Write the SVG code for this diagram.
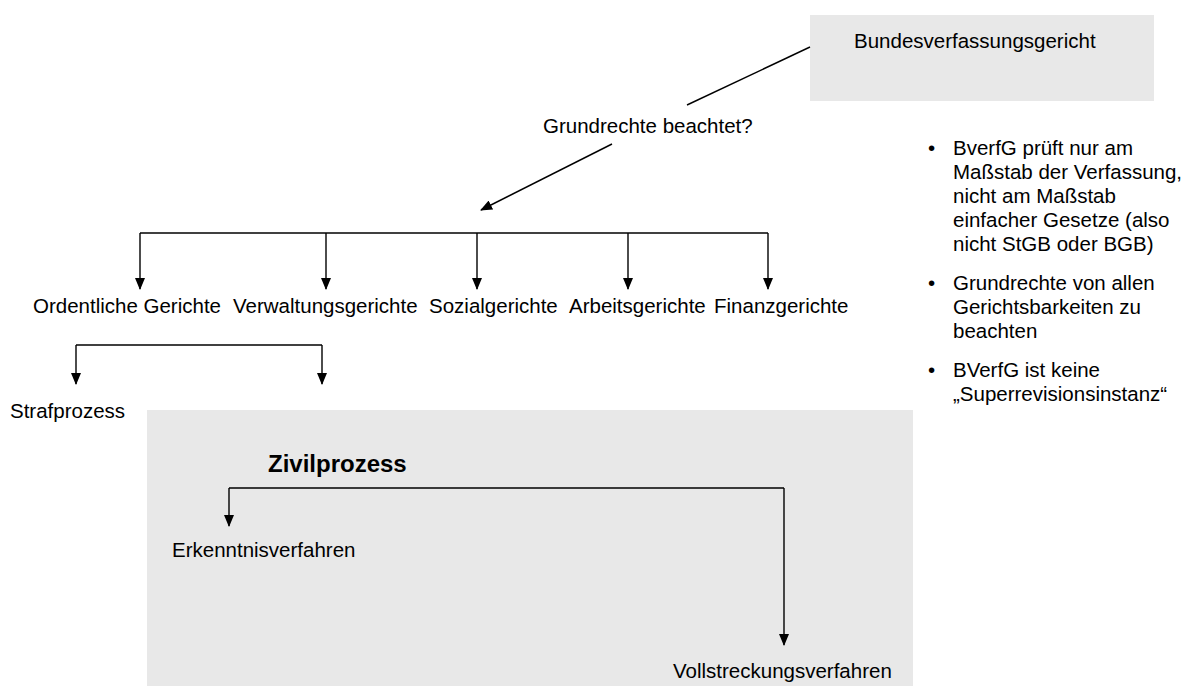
<svg xmlns="http://www.w3.org/2000/svg" width="1195" height="686" viewBox="0 0 1195 686">
<style>
text{font-family:"Liberation Sans",Arial,sans-serif;font-size:20.5px;fill:#000}
.b{font-weight:bold;font-size:24px}
.c{fill:none;stroke:#000;stroke-width:1.4}
.box{fill:#e8e8e8}
</style>
<defs>
<marker id="ah" markerWidth="12" markerHeight="10" refX="11" refY="5" orient="auto" markerUnits="userSpaceOnUse">
<path d="M0,0 L12,5 L0,10 z" fill="#000"/>
</marker>
</defs>
<rect id="zivil-bg" class="box" x="147" y="410" width="766" height="276"/>
<g id="bverfg"><rect class="box" x="810" y="15" width="344" height="86"/><text x="854" y="48">Bundesverfassungsgericht</text></g>
<g id="frage"><text x="543" y="133">Grundrechte beachtet?</text></g>
<g id="connectors">
<path class="c" d="M810,47 L687,105"/>
<path class="c" d="M612,144 L481,210" marker-end="url(#ah)"/>
<path class="c" d="M140,233 H768"/>
<path class="c" d="M140,233 V289" marker-end="url(#ah)"/>
<path class="c" d="M326,233 V289" marker-end="url(#ah)"/>
<path class="c" d="M477,233 V289" marker-end="url(#ah)"/>
<path class="c" d="M628,233 V289" marker-end="url(#ah)"/>
<path class="c" d="M768,233 V289" marker-end="url(#ah)"/>
<path class="c" d="M76,345 H322"/>
<path class="c" d="M76,345 V384" marker-end="url(#ah)"/>
<path class="c" d="M322,345 V384" marker-end="url(#ah)"/>
<path class="c" d="M229,488 H784"/>
<path class="c" d="M229,488 V526" marker-end="url(#ah)"/>
<path class="c" d="M784,488 V645" marker-end="url(#ah)"/>
</g>
<g id="ordentliche"><text x="33" y="313">Ordentliche Gerichte</text></g>
<g id="verwaltung"><text x="233" y="313">Verwaltungsgerichte</text></g>
<g id="sozial"><text x="429" y="313">Sozialgerichte</text></g>
<g id="arbeit"><text x="569" y="313">Arbeitsgerichte</text></g>
<g id="finanz"><text x="714" y="313">Finanzgerichte</text></g>
<g id="straf"><text x="10" y="418">Strafprozess</text></g>
<g id="zivil"><text class="b" x="268" y="472">Zivilprozess</text></g>
<g id="erkenntnis"><text x="172" y="557">Erkenntnisverfahren</text></g>
<g id="vollstreckung"><text x="673" y="678">Vollstreckungsverfahren</text></g>
<g id="notes">
<text x="928" y="155">•</text>
<text x="953" y="155">BverfG prüft nur am</text>
<text x="953" y="179">Maßstab der Verfassung,</text>
<text x="953" y="203">nicht am Maßstab</text>
<text x="953" y="227">einfacher Gesetze (also</text>
<text x="953" y="251">nicht StGB oder BGB)</text>
<text x="928" y="290">•</text>
<text x="953" y="290">Grundrechte von allen</text>
<text x="953" y="314">Gerichtsbarkeiten zu</text>
<text x="953" y="338">beachten</text>
<text x="928" y="377">•</text>
<text x="953" y="377">BVerfG ist keine</text>
<text x="953" y="401">„Superrevisionsinstanz“</text>
</g>
</svg>
